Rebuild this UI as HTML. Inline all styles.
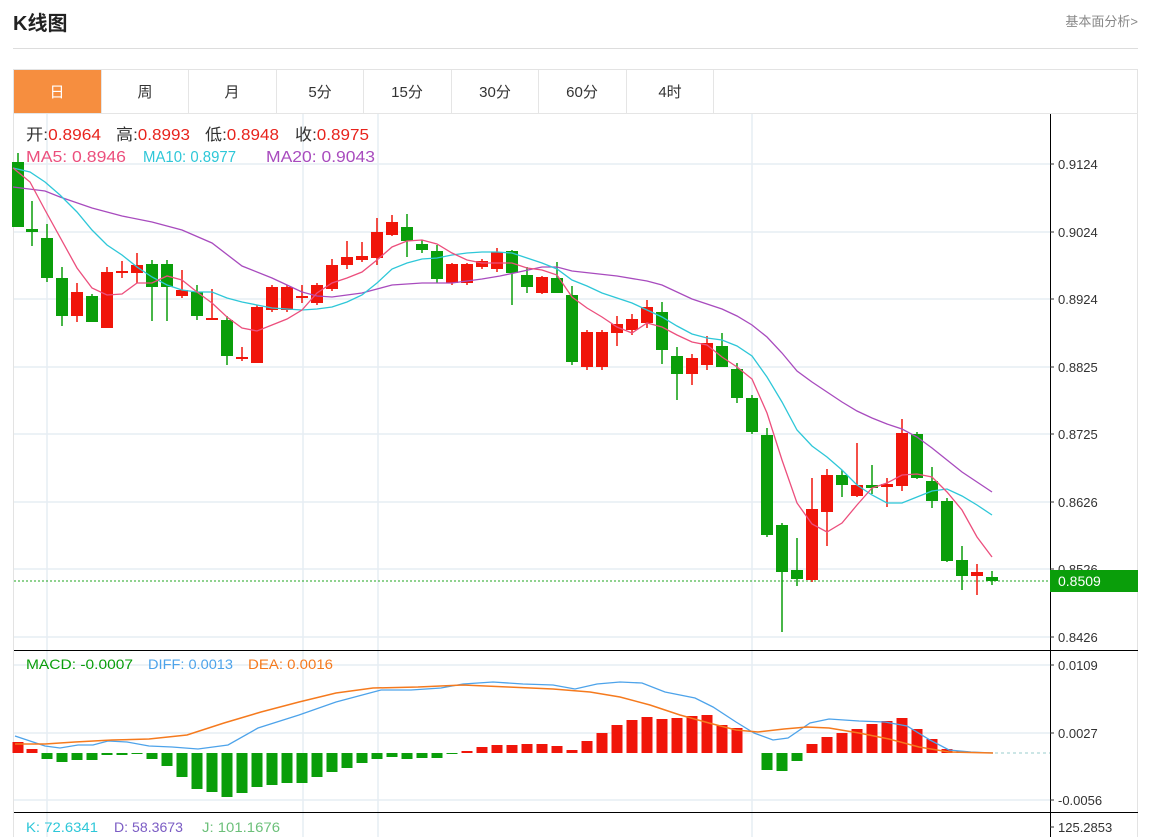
<!DOCTYPE html>
<html><head><meta charset="utf-8"><style>
html,body{margin:0;padding:0;background:#fff;width:1165px;height:837px;overflow:hidden;font-family:"Liberation Sans","Noto Sans CJK SC",sans-serif}
</style></head><body>
<svg width="1165" height="837" xmlns="http://www.w3.org/2000/svg" style="position:absolute;left:0;top:0;font-family:'Liberation Sans','Noto Sans CJK SC',sans-serif">
<text x="13" y="30" font-size="20" font-weight="bold" fill="#222">K线图</text>
<text x="1138" y="26" font-size="13" fill="#888" text-anchor="end">基本面分析&gt;</text>
<line x1="13" y1="48.5" x2="1138" y2="48.5" stroke="#ddd"/>
<rect x="13.5" y="69.5" width="1124" height="770" fill="none" stroke="#e3e3e3"/>
<rect x="14" y="70" width="87" height="43" fill="#f68e3f"/>
<g stroke="#e5e5e5"><line x1="101.5" y1="70" x2="101.5" y2="113"/><line x1="188.5" y1="70" x2="188.5" y2="113"/><line x1="276.5" y1="70" x2="276.5" y2="113"/><line x1="363.5" y1="70" x2="363.5" y2="113"/><line x1="451.5" y1="70" x2="451.5" y2="113"/><line x1="538.5" y1="70" x2="538.5" y2="113"/><line x1="626.5" y1="70" x2="626.5" y2="113"/><line x1="713.5" y1="70" x2="713.5" y2="113"/><line x1="14" y1="113.5" x2="1138" y2="113.5"/></g>
<g font-size="15" text-anchor="middle" fill="#333"><text x="57" y="97" fill="#fff">日</text><text x="145" y="97">周</text><text x="232" y="97">月</text><text x="320" y="97">5分</text><text x="407" y="97">15分</text><text x="495" y="97">30分</text><text x="582" y="97">60分</text><text x="670" y="97">4时</text></g>
<g stroke="#e6edf3" stroke-width="1.5"><line x1="14" y1="164" x2="1050" y2="164"/><line x1="14" y1="232" x2="1050" y2="232"/><line x1="14" y1="299" x2="1050" y2="299"/><line x1="14" y1="367" x2="1050" y2="367"/><line x1="14" y1="434" x2="1050" y2="434"/><line x1="14" y1="502" x2="1050" y2="502"/><line x1="14" y1="569" x2="1050" y2="569"/><line x1="14" y1="637" x2="1050" y2="637"/><line x1="14" y1="665" x2="1050" y2="665"/><line x1="14" y1="733" x2="1050" y2="733"/><line x1="14" y1="800" x2="1050" y2="800"/><line x1="47" y1="114" x2="47" y2="837"/><line x1="303" y1="114" x2="303" y2="837"/><line x1="378" y1="114" x2="378" y2="837"/><line x1="752" y1="114" x2="752" y2="837"/></g>
<g stroke="#000"><line x1="1050.5" y1="114" x2="1050.5" y2="837"/><line x1="14" y1="650.5" x2="1138" y2="650.5"/><line x1="14" y1="812.5" x2="1138" y2="812.5"/></g>
<g font-size="13" fill="#333"><text x="1058" y="169">0.9124</text><text x="1058" y="237">0.9024</text><text x="1058" y="304">0.8924</text><text x="1058" y="372">0.8825</text><text x="1058" y="439">0.8725</text><text x="1058" y="507">0.8626</text><text x="1058" y="574">0.8526</text><text x="1058" y="642">0.8426</text><text x="1058" y="670">0.0109</text><text x="1058" y="738">0.0027</text><text x="1058" y="805">-0.0056</text><text x="1058" y="832">125.2853</text></g>
<g stroke="#333"><line x1="1050" y1="164" x2="1054" y2="164"/><line x1="1050" y1="232" x2="1054" y2="232"/><line x1="1050" y1="299" x2="1054" y2="299"/><line x1="1050" y1="367" x2="1054" y2="367"/><line x1="1050" y1="434" x2="1054" y2="434"/><line x1="1050" y1="502" x2="1054" y2="502"/><line x1="1050" y1="569" x2="1054" y2="569"/><line x1="1050" y1="637" x2="1054" y2="637"/><line x1="1050" y1="665" x2="1054" y2="665"/><line x1="1050" y1="733" x2="1054" y2="733"/><line x1="1050" y1="800" x2="1054" y2="800"/><line x1="1050" y1="827" x2="1054" y2="827"/></g>
<line x1="14" y1="581" x2="1050" y2="581" stroke="#1fa51f" stroke-dasharray="2,2"/>
<rect x="1050" y="570" width="88" height="22" fill="#0a9e0a"/>
<text x="1058" y="586" font-size="14" fill="#fff">0.8509</text>
<g id="candles"></g>
<g id="hist"></g>
<polyline fill="none" stroke="#a84bbe" stroke-width="1.3" points="13,187 45,191 60,197 92,208 122,216 152,222 182,230 212,243 242,266 272,278 302,292 317,296 332,297 362,293 392,285 422,283 452,283 482,279 500,276 542,267 557,267 572,271 617,276 647,281 662,285 692,299 722,309 737,316 752,325 767,337 782,353 797,371 812,382 827,392 842,402 857,411 872,418 887,424 902,429 917,437 932,448 947,460 962,472 977,482 992,492"/>
<polyline fill="none" stroke="#2ec7d8" stroke-width="1.3" points="13,168 30,172 45,182 60,195 77,212 92,230 107,245 122,255 137,267 152,277 167,285 182,290 197,292 212,292 227,298 242,302 257,305 272,308 287,309 302,310 317,309 332,307 347,302 362,295 377,283 392,269 407,263 422,259 437,258 452,255 467,253 482,252 497,252 512,253 527,258 542,263 557,269 572,280 587,286 602,293 617,298 632,303 647,310 662,317 677,326 692,334 707,338 722,340 737,346 752,356 767,377 782,402 797,430 812,446 827,457 842,470 857,485 872,495 887,503 902,503 917,497 932,491 947,489 962,496 977,505 992,515"/>
<polyline fill="none" stroke="#ec4f7d" stroke-width="1.3" points="13,168 30,182 45,210 77,268 92,288 107,295 122,294 137,283 152,283 167,276 182,280 197,292 212,303 227,317 242,328 257,331 272,325 287,319 302,310 317,293 332,283 347,278 362,272 377,260 392,247 407,241 422,240 437,244 452,253 467,260 482,263 497,263 512,263 527,268 542,270 557,275 572,297 587,308 602,317 617,327 632,333 647,323 662,327 677,335 692,342 707,345 722,357 737,367 752,379 767,413 782,460 797,503 812,524 827,532 842,523 857,505 872,488 887,483 902,475 917,474 932,477 947,492 962,510 977,537 992,557"/>
<line x1="995" y1="753" x2="1050" y2="753" stroke="#9cc" stroke-dasharray="3,3"/>
<polyline fill="none" stroke="#4da3ea" stroke-width="1.3" points="15,736 45,746 60,748 78,745 93,745 108,741 127,742 149,746 172,747 198,749 228,745 258,728 299,715 336,702 381,690 411,690 441,688 463,684 493,682 523,684 553,685 575,689 597,684 620,682 642,683 665,692 695,698 713,707 736,722 754,733 773,740 788,738 810,723 829,719 859,721 885,722 907,726 930,740 949,750 971,752 993,753"/>
<polyline fill="none" stroke="#f57a1e" stroke-width="1.5" points="15,744 45,744 75,742 112,740 149,739 187,735 224,723 261,712 299,702 336,693 373,688 418,687 463,685 508,687 553,689 590,692 620,697 650,705 680,715 709,723 736,730 758,732 784,729 807,727 829,728 859,733 889,739 919,747 949,752 993,753"/>
<g font-size="16" lengthAdjust="spacingAndGlyphs"><text x="26" y="140" fill="#333" textLength="75" lengthAdjust="spacingAndGlyphs">开:<tspan fill="#e8231c">0.8964</tspan></text><text x="116" y="140" fill="#333" textLength="74" lengthAdjust="spacingAndGlyphs">高:<tspan fill="#e8231c">0.8993</tspan></text><text x="205" y="140" fill="#333" textLength="74" lengthAdjust="spacingAndGlyphs">低:<tspan fill="#e8231c">0.8948</tspan></text><text x="295" y="140" fill="#333" textLength="74" lengthAdjust="spacingAndGlyphs">收:<tspan fill="#e8231c">0.8975</tspan></text>
<text x="26" y="162" fill="#ec4f7d" textLength="100" lengthAdjust="spacingAndGlyphs">MA5: 0.8946</text><text x="143" y="162" fill="#2ec7d8" textLength="93" lengthAdjust="spacingAndGlyphs">MA10: 0.8977</text><text x="266" y="162" fill="#a84bbe" textLength="109" lengthAdjust="spacingAndGlyphs">MA20: 0.9043</text></g>
<g font-size="14"><text x="26" y="669" fill="#0a9e0a" textLength="107" lengthAdjust="spacingAndGlyphs">MACD: -0.0007</text><text x="148" y="669" fill="#4da3ea" textLength="85" lengthAdjust="spacingAndGlyphs">DIFF: 0.0013</text><text x="248" y="669" fill="#f57a1e" textLength="85" lengthAdjust="spacingAndGlyphs">DEA: 0.0016</text>
<text x="26" y="832" fill="#2ec7d8" textLength="72" lengthAdjust="spacingAndGlyphs">K: 72.6341</text><text x="114" y="832" fill="#7b5cc4" textLength="69" lengthAdjust="spacingAndGlyphs">D: 58.3673</text><text x="202" y="832" fill="#6cc07a" textLength="78" lengthAdjust="spacingAndGlyphs">J: 101.1676</text></g>
</svg>
<script>
var C=[[18,'g',162,227,153,227],[32,'g',229,232,201,246],[47,'g',238,278,224,282],[62,'g',278,316,267,326],[77,'r',292,316,283,322],[92,'g',296,322,294,322],[107,'r',272,328,267,328],[122,'r',271,273,261,278],[137,'r',265,273,253,283],[152,'g',264,287,260,321],[167,'g',264,287,260,321],[182,'r',290,296,270,298],[197,'g',292,316,285,320],[212,'r',318,320,289,320],[227,'g',320,356,316,365],[242,'r',357,359,347,361],[257,'r',307,363,305,363],[272,'r',287,310,285,312],[287,'r',287,310,285,312],[302,'r',296,298,285,303],[317,'r',285,303,283,305],[332,'r',265,289,259,291],[347,'r',257,265,241,269],[362,'r',256,260,242,262],[377,'r',232,258,218,265],[392,'r',222,235,215,236],[407,'g',227,241,214,257],[422,'g',244,250,240,253],[437,'g',251,279,245,283],[452,'r',264,283,263,285],[467,'r',264,283,263,285],[482,'r',261,267,259,269],[497,'r',252,269,248,272],[512,'g',251,273,250,305],[527,'g',275,287,267,293],[542,'r',277,293,276,294],[557,'g',278,293,262,293],[572,'g',295,362,286,365],[587,'r',332,367,330,370],[602,'r',332,367,330,370],[617,'r',324,333,316,346],[632,'r',319,330,314,335],[647,'r',307,323,300,328],[662,'g',312,350,302,364],[677,'g',356,374,347,400],[692,'r',358,374,354,385],[707,'r',343,365,336,370],[722,'g',346,367,333,367],[737,'g',369,398,363,403],[752,'g',398,432,395,434],[767,'g',435,535,428,537],[782,'g',525,572,523,632],[797,'g',570,579,538,586],[812,'r',509,580,478,582],[827,'r',475,512,469,546],[842,'g',475,485,470,497],[857,'r',485,496,443,497],[872,'g',485,488,465,494],[887,'r',484,487,478,507],[902,'r',433,486,419,491],[917,'g',434,478,432,479],[932,'g',481,501,467,508],[947,'g',501,561,498,562],[962,'g',560,576,546,590],[977,'r',572,576,564,595],[992,'g',577,581,571,585]];
var H=[[18,742],[32,749],[47,759],[62,762],[77,760],[92,760],[107,755],[122,755],[137,754],[152,759],[167,766],[182,777],[197,789],[212,792],[227,797],[242,793],[257,787],[272,785],[287,783],[302,783],[317,777],[332,772],[347,768],[362,763],[377,759],[392,757],[407,759],[422,758],[437,758],[452,754],[467,751],[482,747],[497,745],[512,745],[527,744],[542,744],[557,746],[572,750],[587,741],[602,733],[617,725],[632,720],[647,717],[662,719],[677,718],[692,716],[707,715],[722,725],[737,728],[767,770],[782,771],[797,761],[812,744],[827,737],[842,733],[857,729],[872,724],[887,721],[902,718],[917,729],[932,739],[947,749],[962,751],[977,752]];
var ns='http://www.w3.org/2000/svg',g=document.getElementById('candles'),h=document.getElementById('hist');
function el(p,t,a){var e=document.createElementNS(ns,t);for(var k in a)e.setAttribute(k,a[k]);p.appendChild(e);}
C.forEach(function(c){var col=c[1]=='r'?'#f0150a':'#0a9e0a';el(g,'line',{x1:c[0],x2:c[0],y1:c[4],y2:c[5],stroke:col,'stroke-width':1.5});var hh=Math.max(c[3]-c[2],2);el(g,'rect',{x:c[0]-6,y:c[2],width:12,height:hh,fill:col});});
var Z=753;H.forEach(function(b){var y=b[1];var col=y<Z?'#f0150a':'#0a9e0a';el(h,'rect',{x:b[0]-5.5,y:Math.min(y,Z),width:11,height:Math.abs(y-Z)||1,fill:col});});
</script>
</body></html>
